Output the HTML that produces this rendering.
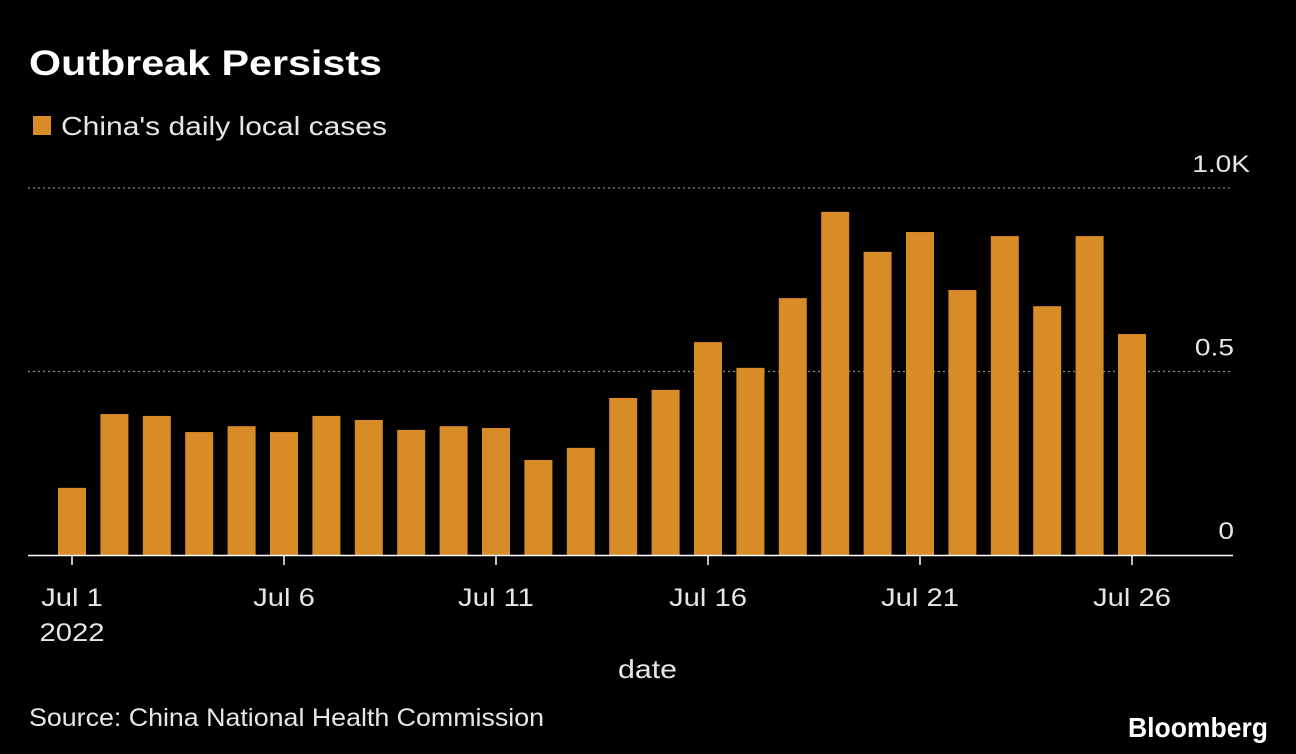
<!DOCTYPE html>
<html><head><meta charset="utf-8"><style>
body{margin:0;background:#000;width:1296px;height:754px;overflow:hidden;font-family:"Liberation Sans",sans-serif;color:#e6e6e6}
</style></head><body>
<svg width="1296" height="754" style="position:absolute;left:0;top:0">
<text x="29" y="75" font-size="35" font-weight="bold" fill="#fff" textLength="353" lengthAdjust="spacingAndGlyphs">Outbreak Persists</text>
<rect x="33" y="116" width="18" height="19" fill="#d98b27"/>
<text x="61" y="135" font-size="26" fill="#e6e6e6" textLength="326" lengthAdjust="spacingAndGlyphs">China's daily local cases</text>
<g id="grid"></g><g id="bars"></g><g id="xaxis"></g>
<line x1="28" y1="555.5" x2="1233" y2="555.5" stroke="#fff" stroke-width="1.5"/>
<text x="618" y="678" font-size="26" fill="#e6e6e6" textLength="59" lengthAdjust="spacingAndGlyphs">date</text>
<text x="29" y="726" font-size="25" fill="#e6e6e6" textLength="515" lengthAdjust="spacingAndGlyphs">Source: China National Health Commission</text>
<text x="1128" y="737" font-size="28" font-weight="bold" fill="#fff" textLength="140" lengthAdjust="spacingAndGlyphs">Bloomberg</text>
</svg>
<script>
const days=[1,2,3,4,5,6,7,8,9,10,11,12,13,14,15,16,17,18,19,20,21,22,23,24,25,26];
const cases=[183,384,379,335,351,335,379,368,341,351,346,259,292,428,450,580,510,700,935,826,880,722,869,678,869,602];
const yTicks=[0,500,1000];
const yTickLabels=["0","0.5","1.0K"];
const xTickDays=[1,6,11,16,21,26];
const xTickLabels=["Jul 1","Jul 6","Jul 11","Jul 16","Jul 21","Jul 26"];
const NS="http://www.w3.org/2000/svg";
const x=d=>72+(d-1)*42.4;
const y=v=>555-v*0.367;
function mk(t,a,p){const e=document.createElementNS(NS,t);for(const k in a)e.setAttribute(k,a[k]);p.appendChild(e);return e;}
function widen(t){const w=t.getComputedTextLength();t.setAttribute('textLength',w*1.17);t.setAttribute('lengthAdjust','spacingAndGlyphs');}
const grid=document.getElementById('grid');
yTicks.forEach((v,i)=>{
  if(v>0){const l=mk('line',{x1:28,x2:1233,y1:y(v),y2:y(v),stroke:'#888','stroke-dasharray':'2,3','stroke-width':1.2},grid);
  
  }
  const t=mk('text',{x:1250,y:y(v)-16,'font-size':24,'text-anchor':'end',fill:'#e6e6e6'},grid);
  t.textContent=yTickLabels[i];
  
  
  widen(t);
  if(v<1000)t.setAttribute('x',1234);
});
const bars=document.getElementById('bars');
days.forEach((d,i)=>{
  const r=mk('rect',{x:x(d)-14,y:y(cases[i]),width:28,height:555-y(cases[i]),fill:'#d98b27'},bars);
  
  
});
const xa=document.getElementById('xaxis');
xTickDays.forEach((d,i)=>{
  const l=mk('line',{x1:x(d),x2:x(d),y1:555,y2:565,stroke:'#fff','stroke-width':1.5},xa);
  
  
  const t=mk('text',{x:x(d),y:606,'font-size':25,'text-anchor':'middle',fill:'#e6e6e6'},xa);
  t.textContent=xTickLabels[i];
  
  
  widen(t);
});
const yr=mk('text',{x:x(1),y:641,'font-size':25,'text-anchor':'middle',fill:'#e6e6e6'},xa);
yr.textContent="2022";


widen(yr);
</script>
</body></html>
